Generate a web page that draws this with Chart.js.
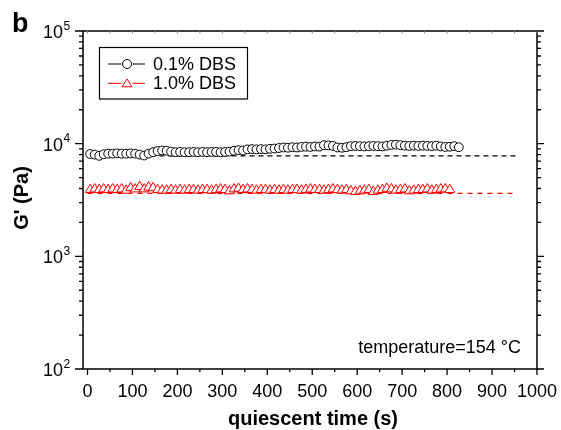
<!DOCTYPE html>
<html>
<head>
<meta charset="utf-8">
<script src="https://cdn.jsdelivr.net/npm/chart.js@4.4.1/dist/chart.umd.min.js"></script>
<style>
  html, body { margin: 0; padding: 0; background: #fff; }
</style>
</head>
<body>
<canvas id="chart" width="561" height="430"></canvas>
<script>
const FONT = '"Liberation Sans", Arial, Helvetica, sans-serif';

// 0.1% DBS (circles)
const timeLow = [6, 16, 26, 36, 46, 56, 66, 76, 86, 96, 106, 116, 126, 136, 146, 156, 166, 176, 186, 196,
  206, 216, 226, 236, 246, 256, 266, 276, 286, 296, 306, 316, 326, 336, 346, 356, 366, 376, 386, 396,
  406, 416, 426, 436, 446, 456, 466, 476, 486, 496, 506, 516, 526, 536, 546, 556, 566, 576, 586, 596,
  606, 616, 626, 636, 646, 656, 666, 676, 686, 696, 706, 716, 726, 736, 746, 756, 766, 776, 786, 796,
  806, 816, 826];
const gLow = [8100, 8000, 7800, 8050, 8150, 8150, 8200, 8150, 8150, 8200, 8150, 8000, 7850, 8150, 8400, 8600, 8700, 8650, 8500, 8400,
  8450, 8400, 8400, 8450, 8400, 8450, 8400, 8450, 8450, 8400, 8450, 8500, 8650, 8750, 8700, 8900, 8950, 8900, 8950, 8900,
  9000, 9050, 9150, 9250, 9200, 9300, 9250, 9350, 9400, 9350, 9450, 9400, 9700, 9650, 9550, 9250, 9200, 9300, 9500, 9550,
  9500, 9450, 9500, 9550, 9500, 9450, 9600, 9750, 9800, 9700, 9600, 9550, 9600, 9550, 9600, 9550, 9500, 9600, 9450, 9350,
  9400, 9500, 9300];

// 1.0% DBS (triangles)
const timeHigh = [6, 16, 26, 36, 46, 56, 66, 76, 86, 96, 106, 116, 126, 136, 146, 156, 166, 176, 186, 196,
  206, 216, 226, 236, 246, 256, 266, 276, 286, 296, 306, 316, 326, 336, 346, 356, 366, 376, 386, 396,
  406, 416, 426, 436, 446, 456, 466, 476, 486, 496, 506, 516, 526, 536, 546, 556, 566, 576, 586, 596,
  606, 616, 626, 636, 646, 656, 666, 676, 686, 696, 706, 716, 726, 736, 746, 756, 766, 776, 786, 796,
  806];
const gHigh = [3900, 3950, 3900, 3950, 3900, 3950, 3900, 3950, 3850, 4050, 3950, 4150, 3950, 4100, 4050, 3900, 3850, 3850, 3900, 3850,
  3900, 3850, 3900, 3900, 3850, 3900, 3900, 3850, 3900, 3950, 3900, 3800, 3950, 4000, 3900, 3950, 3900, 3850, 3900, 3900,
  3850, 3900, 3850, 3900, 3850, 3900, 3900, 3850, 3900, 3950, 3900, 3900, 3850, 3900, 3950, 3900, 3850, 3900, 3800, 3750,
  3800, 3850, 3900, 3750, 3850, 3900, 4000, 3950, 3850, 3900, 3950, 3800, 3850, 3900, 3900, 3950, 3850, 3900, 3950, 3950,
  3900];

// dashed reference levels
const refLowTime = [0, 960];
const refLowValue = [7800, 7800];
const refHighTime = [0, 955];
const refHighValue = [3620, 3620];

const seriesLabels = ['0.1% DBS', '1.0% DBS'];

const xTicks = [0, 100, 200, 300, 400, 500, 600, 700, 800, 900, 1000];
const xMinorTicks = [50, 150, 250, 350, 450, 550, 650, 750, 850, 950];
const yTicks = [100, 1000, 10000, 100000];
const yExponents = ['2', '3', '4', '5'];

const toPoints = (xs, ys) => xs.map((t, i) => ({ x: t, y: ys[i] }));

// draws the boxed frame, ticks, tick labels and titles from the scales
const frame = {
  id: 'frame',
  afterDatasetsDraw(chart) {
    const { ctx, chartArea: a, scales: { x, y } } = chart;
    ctx.save();
    ctx.strokeStyle = '#000';
    ctx.lineWidth = 1.5;
    ctx.strokeRect(a.left, a.top, a.right - a.left, a.bottom - a.top);

    ctx.lineWidth = 1.3;
    ctx.beginPath();
    // bottom ticks (outward)
    xTicks.forEach(v => {
      const px = x.getPixelForValue(v);
      ctx.moveTo(px, a.bottom); ctx.lineTo(px, a.bottom + 6);
    });
    xMinorTicks.forEach(v => {
      const px = x.getPixelForValue(v);
      ctx.moveTo(px, a.bottom); ctx.lineTo(px, a.bottom + 3);
    });
    // left / right log ticks (outward)
    yTicks.forEach(v => {
      const py = y.getPixelForValue(v);
      ctx.moveTo(a.left, py); ctx.lineTo(a.left - 8, py);
      ctx.moveTo(a.right, py); ctx.lineTo(a.right + 7, py);
    });
    yTicks.slice(0, -1).forEach(base => {
      for (let k = 2; k <= 9; k++) {
        const py = y.getPixelForValue(base * k);
        ctx.moveTo(a.left, py); ctx.lineTo(a.left - 4, py);
        ctx.moveTo(a.right, py); ctx.lineTo(a.right + 4, py);
      }
    });
    ctx.stroke();

    // faint top ticks
    ctx.strokeStyle = '#888';
    ctx.lineWidth = 1;
    ctx.beginPath();
    xTicks.concat(xMinorTicks).forEach(v => {
      const px = x.getPixelForValue(v);
      ctx.moveTo(px, a.top); ctx.lineTo(px, a.top + 2.5);
    });
    ctx.stroke();

    ctx.fillStyle = '#000';
    // x tick labels
    ctx.font = '18px ' + FONT;
    ctx.textAlign = 'center';
    ctx.textBaseline = 'alphabetic';
    xTicks.forEach(v => ctx.fillText(String(v), x.getPixelForValue(v), a.bottom + 28));

    // y tick labels 10^n
    yTicks.forEach((v, i) => {
      const py = y.getPixelForValue(v);
      ctx.font = '18px ' + FONT;
      ctx.textAlign = 'right';
      ctx.fillText('10', a.left - 20, py + 7);
      ctx.font = '12px ' + FONT;
      ctx.textAlign = 'left';
      ctx.fillText(yExponents[i], a.left - 19.5, py - 1.5);
    });

    // axis titles
    ctx.font = 'bold 20px ' + FONT;
    ctx.textAlign = 'center';
    ctx.fillText('quiescent time (s)', (a.left + a.right) / 2 + 3, 425);
    ctx.save();
    ctx.translate(22, 198);
    ctx.rotate(-Math.PI / 2);
    ctx.textBaseline = 'middle';
    ctx.fillText("G' (Pa)", 0, 0);
    ctx.restore();

    // panel letter
    ctx.font = 'bold 27px ' + FONT;
    ctx.textAlign = 'left';
    ctx.fillText('b', 12, 32);

    // annotation
    ctx.font = '18px ' + FONT;
    ctx.textAlign = 'right';
    ctx.fillText('temperature=154 \u00B0C', 521, 353);

    // legend box
    ctx.lineWidth = 1.2;
    ctx.strokeStyle = '#000';
    ctx.strokeRect(99.5, 47.5, 148, 51.5);
    const ds = chart.data.datasets;
    [0, 1].forEach(i => {
      const d = ds[i];
      const cy = 64 + i * 19.3;
      ctx.strokeStyle = d.borderColor;
      ctx.lineWidth = 1;
      ctx.beginPath();
      ctx.moveTo(108, cy); ctx.lineTo(121.5, cy);
      ctx.moveTo(132.5, cy); ctx.lineTo(145, cy);
      ctx.stroke();
      ctx.fillStyle = '#fff';
      ctx.beginPath();
      if (d.pointStyle === 'circle') {
        ctx.arc(127, cy, 4.5, 0, Math.PI * 2);
      } else {
        const r = 5.8;
        ctx.moveTo(127, cy - r * 0.75);
        ctx.lineTo(127 + r * 0.866, cy + r * 0.6);
        ctx.lineTo(127 - r * 0.866, cy + r * 0.6);
        ctx.closePath();
      }
      ctx.fill();
      ctx.stroke();
      ctx.fillStyle = '#000';
      ctx.font = '18px ' + FONT;
      ctx.textAlign = 'left';
      ctx.textBaseline = 'middle';
      ctx.fillText(d.label, 153, cy + 1);
    });
    ctx.restore();
  }
};

new Chart(document.getElementById('chart'), {
  type: 'scatter',
  data: {
    datasets: [
      {
        label: seriesLabels[0],
        data: toPoints(timeLow, gLow),
        pointStyle: 'circle',
        pointRadius: 4.4,
        borderColor: '#000',
        backgroundColor: '#fff',
        borderWidth: 1,
        order: 1
      },
      {
        label: seriesLabels[1],
        data: toPoints(timeHigh, gHigh),
        pointStyle: 'triangle',
        pointRadius: 5.6,
        borderColor: '#ff0000',
        backgroundColor: '#fff',
        borderWidth: 1,
        order: 1
      },
      {
        label: 'ref low',
        data: toPoints(refLowTime, refLowValue),
        showLine: true,
        pointRadius: 0,
        borderColor: '#000',
        borderWidth: 1.3,
        borderDash: [5, 4],
        order: 2
      },
      {
        label: 'ref high',
        data: toPoints(refHighTime, refHighValue),
        showLine: true,
        pointRadius: 0,
        borderColor: '#ff0000',
        borderWidth: 1.3,
        borderDash: [5, 5],
        order: 2
      }
    ]
  },
  options: {
    responsive: false,
    animation: false,
    layout: { padding: { left: 83, right: 24, top: 31, bottom: 61 } },
    plugins: { legend: { display: false }, tooltip: { enabled: false } },
    scales: {
      x: { type: 'linear', min: -10, max: 1000, display: false },
      y: { type: 'logarithmic', min: 100, max: 100000, display: false }
    }
  },
  plugins: [frame]
});
</script>
</body>
</html>
